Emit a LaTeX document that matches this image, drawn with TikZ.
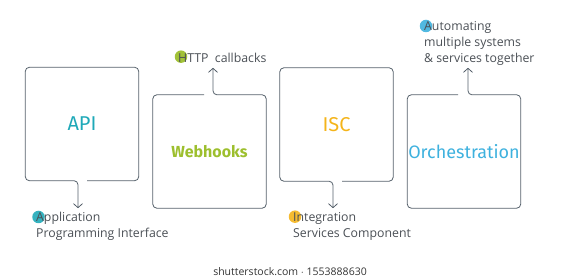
\documentclass[tikz,border=0pt]{standalone}
\usepackage{fontspec}
\setmainfont{Open Sans}
\newfontfamily\titlefont{Fira Sans}
\usetikzlibrary{arrows.meta}

\definecolor{edgegray}{HTML}{56616B}
\definecolor{textgray}{HTML}{4A4F55}
\definecolor{apicol}{HTML}{1FA9B8}
\definecolor{webcol}{HTML}{9DBF2E}
\definecolor{isccol}{HTML}{F4B41A}
\definecolor{orchcol}{HTML}{3EB1DE}

\begin{document}
\begin{tikzpicture}[x=1pt,y=-1pt,>={Straight Barb[length=4pt,width=9pt]},
  box/.style={minimum width=113pt,minimum height=113pt,inner sep=0pt},
  outline/.style={draw=edgegray,line width=.8pt,rounded corners=4pt},
  title/.style={font=\titlefont\fontsize{18}{20}\selectfont},
  caption/.style={align=left,anchor=north west,inner sep=0pt,text=textgray,
    font=\fontsize{12.3}{16}\selectfont},
  dot/.style={circle,minimum size=12.5pt,inner sep=0pt}]
  \useasboundingbox (0,0) rectangle (579,280);

  % boxes
  \node[box,title,text=apicol,font=\titlefont\fontsize{20}{22}\selectfont] (api) at (82,124) {API};
  \node[box,title,text=webcol,font=\titlefont\bfseries\fontsize{16}{18}\selectfont] (web) at (209.5,151.5) {Webhooks};
  \node[box,title,text=isccol,font=\titlefont\fontsize{20}{22}\selectfont] (isc) at (336.5,124.5) {ISC};
  \node[box,title,text=orchcol] (orch) at (464,151.5) {Orchestration};

  % arrow ends
  \coordinate (apitip) at ([xshift=-4pt,yshift=-27.5pt]api.south);
  \coordinate (webtip) at ([xshift=3.5pt,yshift=27pt]web.north);
  \coordinate (isctip) at ([xshift=-3.5pt,yshift=-27pt]isc.south);
  \coordinate (orchtip) at ([xshift=4pt,yshift=27pt]orch.north);

  % outlines running into the arrows
  \draw[outline,->] ([xshift=5pt]api.south) -- (api.south east) -- (api.north east)
    -- (api.north west) -- (api.south west) -- ([xshift=-4pt]api.south) -- (apitip);
  \draw[outline,->] ([xshift=-5.5pt]web.north) -- (web.north west) -- (web.south west)
    -- (web.south east) -- (web.north east) -- ([xshift=3.5pt]web.north) -- (webtip);
  \draw[outline,->] ([xshift=5.5pt]isc.south) -- (isc.south east) -- (isc.north east)
    -- (isc.north west) -- (isc.south west) -- ([xshift=-3.5pt]isc.south) -- (isctip);
  \draw[outline,->] ([xshift=-6pt]orch.north) -- (orch.north west) -- (orch.south west)
    -- (orch.south east) -- (orch.north east) -- ([xshift=4pt]orch.north) -- (orchtip);

  % coloured dots behind the first letters
  \node[dot,fill=apicol!90] (apidot) at (38.5,217) {};
  \node[dot,fill=webcol!95] (webdot) at (181,56.7) {};
  \node[dot,fill=isccol!90] (iscdot) at (295,216.7) {};
  \node[dot,fill=orchcol!90] (orchdot) at (426,26) {};

  % captions
  \node[caption] (apilab) at (36,211.5) {Application\\Programming Interface};
  \node[caption] (weblab) at (178,52.5) {HTTP~~callbacks};
  \node[caption] (isclab) at (293,212) {Integration\\Services Component};
  \node[caption] (orchlab) at (424,21) {Automating\\multiple systems\\\& services together};

  \node[text=black!80,font=\fontsize{10.5}{12}\selectfont] (mark) at (290,272) {shutterstock.com $\cdot$ 1553888630};
\end{tikzpicture}
\end{document}
